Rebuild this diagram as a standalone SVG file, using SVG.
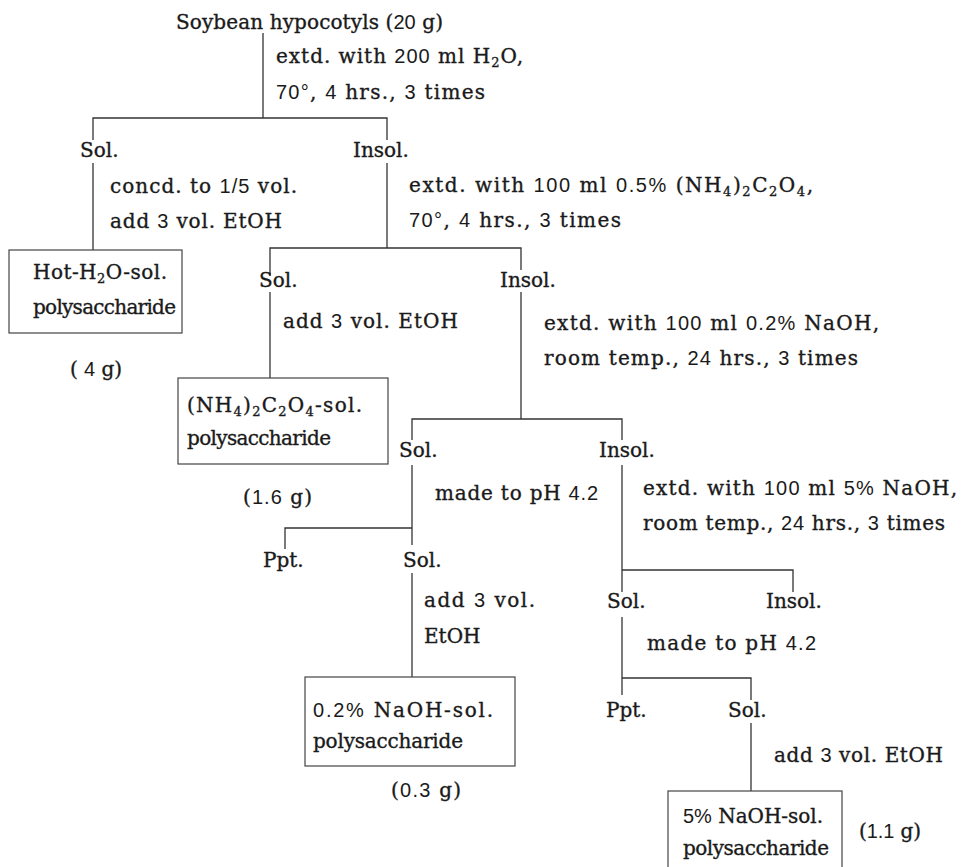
<svg xmlns="http://www.w3.org/2000/svg" width="966" height="867" viewBox="0 0 966 867">
<style>
text{font-family:"DejaVu Serif","Liberation Serif",serif;font-size:20px;fill:#1a1a1a;stroke:#1a1a1a;stroke-width:0.35}
.d{font-family:"Liberation Sans Narrow","Liberation Sans",sans-serif;font-size:20px;stroke:none}
.s{font-size:13px}
.c{fill:none;stroke:#333;stroke-width:1.3}
.box{fill:none;stroke:#444;stroke-width:1.2}
</style>
<rect width="966" height="867" fill="#fff"/>
<g id="connectors" class="c">
<path d="M263,33V118"/>
<path d="M93,140V118H387V140"/>
<path d="M93,163V250"/>
<path d="M387,163V248"/>
<path d="M270,275V248H521V270"/>
<path d="M270,292V378"/>
<path d="M521,292V419"/>
<path d="M412,440V419H622V440"/>
<path d="M412,465V545"/>
<path d="M285,549V528H412"/>
<path d="M412,573V677"/>
<path d="M622,465V592"/>
<path d="M622,570H793V592"/>
<path d="M622,617V695"/>
<path d="M622,678H751V700"/>
<path d="M751,723V791"/>
</g>
<g id="start">
<text x="176" y="29" textLength="267">Soybean hypocotyls (<tspan class="d">20</tspan> g)</text>
</g>
<g id="step1">
<text x="276" y="63" textLength="247">extd. with <tspan class="d">200</tspan> ml H<tspan class="s" dy="4">2</tspan><tspan dy="-4">O,</tspan></text>
<text x="276" y="99" textLength="209"><tspan class="d">70°</tspan>, <tspan class="d">4</tspan> hrs., <tspan class="d">3</tspan> times</text>
</g>
<g id="sol1"><text x="80" y="157">Sol.</text></g>
<g id="insol1"><text x="353" y="157">Insol.</text></g>
<g id="step-sol1">
<text x="110" y="193" textLength="187">concd. to <tspan class="d">1/5</tspan> vol.</text>
<text x="110" y="228" textLength="172">add <tspan class="d">3</tspan> vol. EtOH</text>
</g>
<g id="hot-box">
<rect class="box" x="9" y="250" width="173" height="83"/>
<text x="33" y="279" textLength="134">Hot-H<tspan class="s" dy="4">2</tspan><tspan dy="-4">O-sol.</tspan></text>
<text x="33" y="314" textLength="143">polysaccharide</text>
<text x="70" y="376" textLength="52">( <tspan class="d">4</tspan> g)</text>
</g>
<g id="step-insol1">
<text x="409" y="192" textLength="404">extd. with <tspan class="d">100</tspan> ml <tspan class="d">0.5%</tspan> (NH<tspan class="s" dy="4">4</tspan><tspan dy="-4">)</tspan><tspan class="s" dy="4">2</tspan><tspan dy="-4">C</tspan><tspan class="s" dy="4">2</tspan><tspan dy="-4">O</tspan><tspan class="s" dy="4">4</tspan><tspan dy="-4">,</tspan></text>
<text x="409" y="227" textLength="212"><tspan class="d">70°</tspan>, <tspan class="d">4</tspan> hrs., <tspan class="d">3</tspan> times</text>
</g>
<g id="sol2"><text x="259" y="287">Sol.</text></g>
<g id="insol2"><text x="500" y="287">Insol.</text></g>
<g id="step-sol2">
<text x="283" y="328" textLength="175">add <tspan class="d">3</tspan> vol. EtOH</text>
</g>
<g id="nh4-box">
<rect class="box" x="178" y="378" width="210" height="86"/>
<text x="187" y="412" textLength="175">(NH<tspan class="s" dy="4">4</tspan><tspan dy="-4">)</tspan><tspan class="s" dy="4">2</tspan><tspan dy="-4">C</tspan><tspan class="s" dy="4">2</tspan><tspan dy="-4">O</tspan><tspan class="s" dy="4">4</tspan><tspan dy="-4">-sol.</tspan></text>
<text x="187" y="445" textLength="144">polysaccharide</text>
<text x="243" y="504" textLength="69">(<tspan class="d">1.6</tspan> g)</text>
</g>
<g id="step-insol2">
<text x="544" y="330" textLength="335">extd. with <tspan class="d">100</tspan> ml <tspan class="d">0.2%</tspan> NaOH,</text>
<text x="544" y="365" textLength="314">room temp., <tspan class="d">24</tspan> hrs., <tspan class="d">3</tspan> times</text>
</g>
<g id="sol3"><text x="399" y="457">Sol.</text></g>
<g id="insol3"><text x="599" y="457">Insol.</text></g>
<g id="step-sol3">
<text x="435" y="500" textLength="163">made to pH <tspan class="d">4.2</tspan></text>
</g>
<g id="ppt3"><text x="263" y="567">Ppt.</text></g>
<g id="sol3b"><text x="403" y="567">Sol.</text></g>
<g id="step-sol3b">
<text x="424" y="607" textLength="111">add <tspan class="d">3</tspan> vol.</text>
<text x="424" y="643">EtOH</text>
</g>
<g id="naoh02-box">
<rect class="box" x="305" y="677" width="210" height="89"/>
<text x="313" y="717" textLength="180"><tspan class="d">0.2%</tspan> NaOH-sol.</text>
<text x="313" y="748" textLength="150">polysaccharide</text>
<text x="391" y="797" textLength="70">(<tspan class="d">0.3</tspan> g)</text>
</g>
<g id="step-insol3">
<text x="643" y="495" textLength="314">extd. with <tspan class="d">100</tspan> ml <tspan class="d">5%</tspan> NaOH,</text>
<text x="643" y="530" textLength="302">room temp., <tspan class="d">24</tspan> hrs., <tspan class="d">3</tspan> times</text>
</g>
<g id="sol4"><text x="607" y="608">Sol.</text></g>
<g id="insol4"><text x="766" y="608">Insol.</text></g>
<g id="step-sol4">
<text x="647" y="650" textLength="169">made to pH <tspan class="d">4.2</tspan></text>
</g>
<g id="ppt4"><text x="606" y="717">Ppt.</text></g>
<g id="sol4b"><text x="728" y="717">Sol.</text></g>
<g id="step-sol4b">
<text x="774" y="762" textLength="169">add <tspan class="d">3</tspan> vol. EtOH</text>
</g>
<g id="naoh5-box">
<rect class="box" x="668" y="791" width="174" height="100"/>
<text x="683" y="823" textLength="140"><tspan class="d">5%</tspan> NaOH-sol.</text>
<text x="683" y="855" textLength="146">polysaccharide</text>
<text x="859" y="838" textLength="62">(<tspan class="d">1.1</tspan> g)</text>
</g>
</svg>
